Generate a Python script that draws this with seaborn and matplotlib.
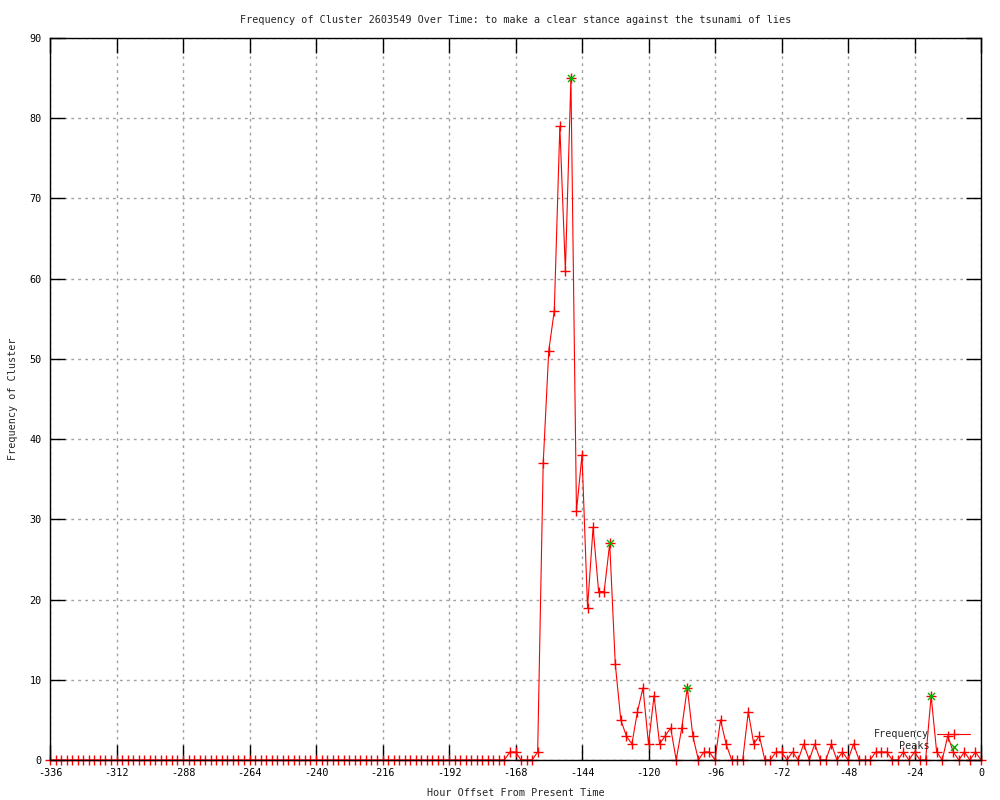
import numpy as np
import pandas as pd
import matplotlib
matplotlib.use("Agg")
import matplotlib.pyplot as plt
import seaborn as sns

# ---- data ----
hours = list(range(-336, 1, 2))
nonzero = {
    -170: 1, -168: 1, -160: 1, -158: 37, -156: 51, -154: 56, -152: 79, -150: 61,
    -148: 85, -146: 31, -144: 38, -142: 19, -140: 29, -138: 21, -136: 21, -134: 27,
    -132: 12, -130: 5, -128: 3, -126: 2, -124: 6, -122: 9, -120: 2, -118: 8,
    -116: 2, -114: 3, -112: 4, -108: 4, -106: 9, -104: 3, -100: 1, -98: 1,
    -94: 5, -92: 2, -84: 6, -82: 2, -80: 3, -74: 1, -72: 1, -68: 1, -64: 2,
    -60: 2, -54: 2, -50: 1, -46: 2, -38: 1, -36: 1, -34: 1, -28: 1, -24: 1,
    -18: 8, -16: 1, -12: 3, -10: 1, -6: 1, -2: 1,
}
frequency = [nonzero.get(h, 0) for h in hours]
peak_hours = [-148, -134, -106, -18]
peak_values = [85, 27, 9, 8]

x_ticks = list(range(-336, 1, 24))
y_ticks = list(range(0, 91, 10))

title = "Frequency of Cluster 2603549 Over Time: to make a clear stance against the tsunami of lies"
xlabel = "Hour Offset From Present Time"
ylabel = "Frequency of Cluster"

# ---- style ----
sns.set_style("white")
plt.rcParams["font.family"] = ["DejaVu Sans Mono", "DejaVu Sans"]
FS = 7.3

df = pd.DataFrame({"hour": hours, "freq": frequency})
pk = pd.DataFrame({"hour": peak_hours, "freq": peak_values})

fig = plt.figure(figsize=(10, 8), dpi=100)
ax = fig.add_axes([0.05, 0.05, 0.931, 0.9025])

sns.lineplot(data=df, x="hour", y="freq", ax=ax, color="red", linewidth=0.8,
             marker="+", markersize=7, markeredgewidth=1.0, markeredgecolor="red",
             label="Frequency", clip_on=False)
sns.scatterplot(data=pk, x="hour", y="freq", ax=ax, color="#00b000", marker="x",
                s=26, linewidth=1.0, label="Peaks", zorder=3, clip_on=False)

ax.set_xlim(-336, 0)
ax.set_ylim(0, 90)
ax.set_xticks(x_ticks)
ax.set_yticks(y_ticks)
ax.set_xticklabels([str(t) for t in x_ticks], fontsize=FS)
ax.set_yticklabels([str(t) for t in y_ticks], fontsize=FS)
ax.tick_params(direction="in", length=11, width=1, top=True, right=True,
               bottom=True, left=True, pad=6, colors="black")
ax.grid(True, color="#a0a0a0", linestyle=(0, (2, 3)), linewidth=1)
for s in ax.spines.values():
    s.set_color("black")
    s.set_linewidth(1)
    s.set_zorder(4)

ax.set_title(title, fontsize=FS, pad=11)
ax.set_xlabel(xlabel, fontsize=FS, labelpad=7)
ax.set_ylabel(ylabel, fontsize=FS, labelpad=8)

leg = ax.legend(loc="lower right", bbox_to_anchor=(0.988, 0.012), frameon=False,
                fontsize=FS, markerfirst=False, handlelength=3.2, handletextpad=0.8,
                labelspacing=0.2, borderpad=0, borderaxespad=0)
try:
    for vp in leg._legend_handle_box.get_children():
        vp.align = "right"
except Exception:
    pass

fig.savefig("out.png", dpi=100)
